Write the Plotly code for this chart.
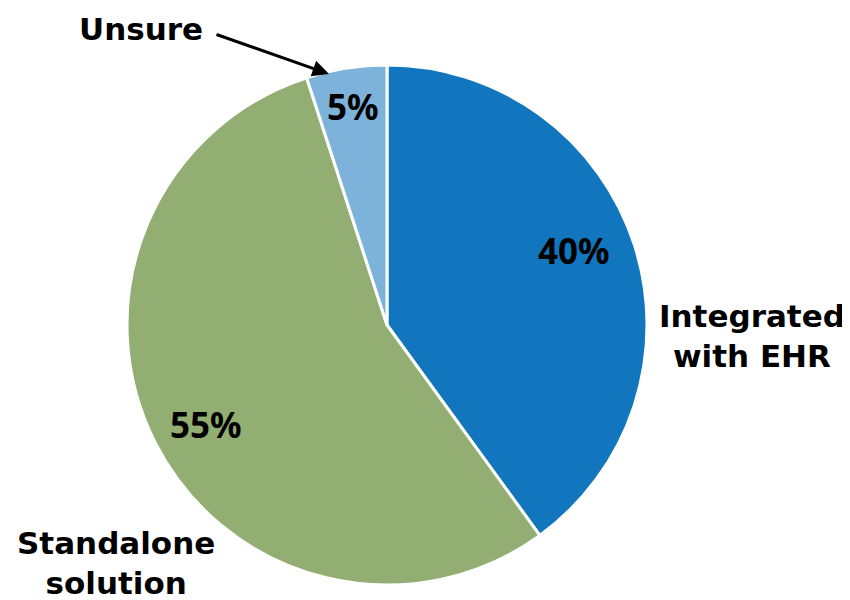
import math
import plotly.graph_objects as go

labels = ["Integrated with EHR", "Standalone solution", "Unsure"]
values = [40, 55, 5]
colors = ["#1176BE", "#93AE72", "#7DB3DB"]
pct_text = ["40%", "55%", "5%"]

W, H = 850, 600
OFF = 8  # page body margin
CX, CY, R = 387 - OFF, 325 - OFF, 260


def px(x):
    return (x - OFF) / W


def py(y):
    return 1 - (y - OFF) / H


fig = go.Figure(go.Pie(
    labels=labels,
    values=values,
    sort=False,
    direction="clockwise",
    rotation=0,
    marker=dict(colors=colors, line=dict(color="white", width=3)),
    textinfo="none",
    hoverinfo="label+percent",
    showlegend=False,
    domain=dict(x=[(CX - R) / W, (CX + R) / W], y=[1 - (CY + R) / H, 1 - (CY - R) / H]),
))

annotations = []
total = sum(values)
cum = 0
radial = [0.77, 0.80, 0.84]
ang_shift = [-3, -2.5, 0]
for v, t, rf, da in zip(values, pct_text, radial, ang_shift):
    mid = (cum + v / 2) / total * 2 * math.pi + math.radians(da)
    cum += v
    x = CX + rf * R * math.sin(mid)
    y = CY - rf * R * math.cos(mid) - 3
    annotations.append(dict(x=x / W, y=1 - y / H, xref="paper", yref="paper",
                            xanchor="center", yanchor="middle",
                            text=f"<b>{t}</b>", showarrow=False,
                            font=dict(family="Noto Sans", size=35, color="black")))

label_font = dict(family="DejaVu Sans", size=31, color="black")
annotations.append(dict(x=px(752), y=py(336), xref="paper", yref="paper",
                        xanchor="center", yanchor="middle",
                        text="<b>Integrated<br>with EHR</b>", showarrow=False,
                        font=label_font, align="center"))
annotations.append(dict(x=px(116), y=py(563), xref="paper", yref="paper",
                        xanchor="center", yanchor="middle",
                        text="<b>Standalone<br>solution</b>", showarrow=False,
                        font=label_font, align="center"))
annotations.append(dict(x=px(141), y=py(29), xref="paper", yref="paper",
                        xanchor="center", yanchor="middle",
                        text="<b>Unsure</b>", showarrow=False, font=label_font))
annotations.append(dict(x=px(329), y=py(74), xref="paper", yref="paper",
                        text="", showarrow=True, axref="pixel", ayref="pixel",
                        ax=-114, ay=-40, arrowhead=2, arrowsize=1.1, arrowwidth=3,
                        arrowcolor="black"))

fig.update_layout(
    width=W, height=H,
    margin=dict(l=0, r=0, t=0, b=0),
    paper_bgcolor="white", plot_bgcolor="white",
    annotations=annotations,
)

fig.write_html("out.html")
